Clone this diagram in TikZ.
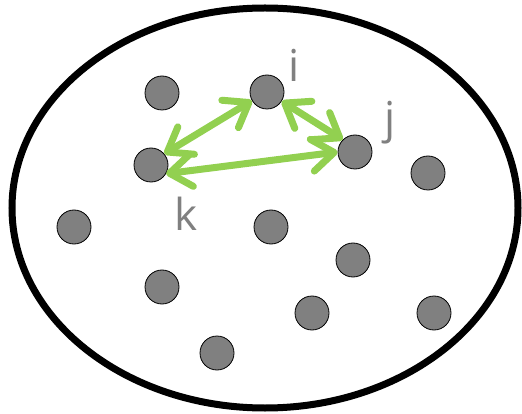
\documentclass[tikz,border=0pt]{standalone}
\usepackage{fontspec}
\setmainfont{Open Sans}
\usetikzlibrary{arrows.meta}
\definecolor{dotgray}{RGB}{128,128,128}
\definecolor{arrgreen}{RGB}{146,208,80}
\tikzset{
  dot/.style={circle, minimum size=34pt, inner sep=0pt, fill=dotgray, draw=black, line width=0.8pt},
  lbl/.style={text=dotgray, font=\fontsize{44}{44}\selectfont, anchor=base, inner sep=0pt},
  link/.style={draw=arrgreen, line width=7pt, line cap=round,
    {Straight Barb[round,length=22pt,width=32pt]}-{Straight Barb[round,length=22pt,width=32pt]}}
}
\begin{document}
\begin{tikzpicture}[x=1pt,y=-1pt]
\useasboundingbox (0,0) rectangle (522,414);
\draw[line width=7pt] (265,208) ellipse [x radius=253, y radius=200];
\node[dot] (a) at (162,93) {};
\node[dot] (i) at (267,92) {};
\node[dot] (k) at (151,165) {};
\node[dot] (j) at (355,152) {};
\node[dot] (b) at (428,173) {};
\node[dot] (c) at (74,227) {};
\node[dot] (d) at (271,227) {};
\node[dot] (e) at (353,260) {};
\node[dot] (f) at (162,287) {};
\node[dot] (g) at (312,313) {};
\node[dot] (h) at (434,313) {};
\node[dot] (m) at (217,353) {};
\node[lbl] (li) at (294,82) {i};
\node[lbl] (lj) at (390,134) {j};
\node[lbl] (lk) at (186,230) {k};
\draw[link] (k.40) -- (i.210);
\draw[link] (i.-32) -- (j.135);
\draw[link] (k.-30) -- (j.180);
\end{tikzpicture}
\end{document}
